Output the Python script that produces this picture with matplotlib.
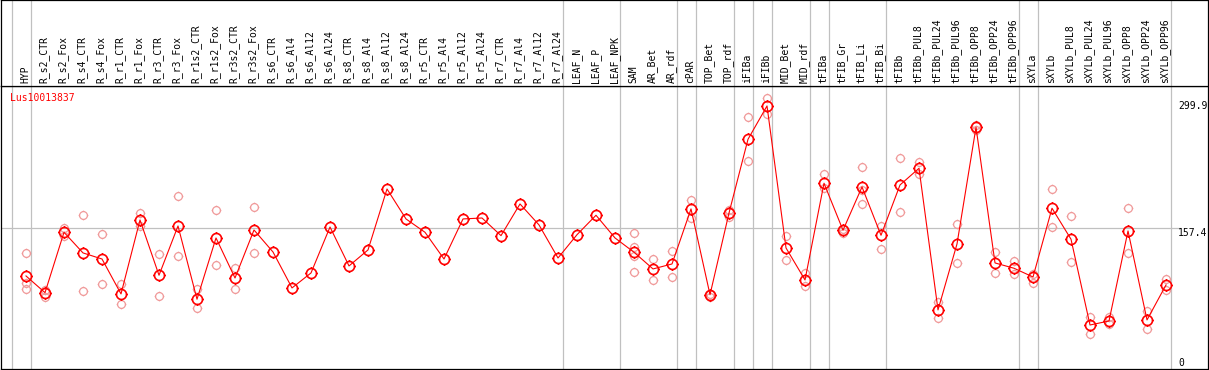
import numpy as np
import matplotlib.pyplot as plt
from matplotlib.path import Path

# sample names (x axis)
labels = ["HYP", "R_s2_CTR", "R_s2_Fox", "R_s4_CTR", "R_s4_Fox", "R_r1_CTR", "R_r1_Fox",
          "R_r3_CTR", "R_r3_Fox", "R_r1s2_CTR", "R_r1s2_Fox", "R_r3s2_CTR", "R_r3s2_Fox",
          "R_s6_CTR", "R_s6_Al4", "R_s6_Al12", "R_s6_Al24", "R_s8_CTR", "R_s8_Al4", "R_s8_Al12",
          "R_s8_Al24", "R_r5_CTR", "R_r5_Al4", "R_r5_Al12", "R_r5_Al24", "R_r7_CTR", "R_r7_Al4",
          "R_r7_Al12", "R_r7_Al24", "LEAF_N", "LEAF_P", "LEAF_NPK", "SAM", "AR_Bet", "AR_rdf",
          "cPAR", "TOP_Bet", "TOP_rdf", "iFIBa", "iFIBb", "MID_Bet", "MID_rdf", "tFIBa",
          "tFIB_Gr", "tFIB_Li", "tFIB_Bi", "tFIBb", "tFIBb_PUL8", "tFIBb_PUL24", "tFIBb_PUL96",
          "tFIBb_OPP8", "tFIBb_OPP24", "tFIBb_OPP96", "sXYLa", "sXYLb", "sXYLb_PUL8",
          "sXYLb_PUL24", "sXYLb_PUL96", "sXYLb_OPP8", "sXYLb_OPP24", "sXYLb_OPP96"]

# mean expression
means = [101.3, 81.8, 152.3, 128.2, 121.1, 80.3, 166.7, 102.1, 159.7, 74.1, 145.7, 98.9, 155.0,
         129.3, 87.3, 104.8, 158.5, 113.0, 131.7, 202.9, 167.9, 152.3, 121.1, 167.9, 169.0,
         148.4, 185.4, 160.9, 122.3, 149.5, 172.2, 145.7, 129.0, 109.5, 115.3, 179.6, 79.4,
         174.9, 261.0, 299.9, 134.0, 96.6, 209.6, 154.7, 205.3, 148.8, 207.6, 227.1, 61.6,
         138.7, 275.0, 116.5, 110.3, 100.1, 180.4, 144.2, 44.0, 48.7, 153.9, 49.9, 90.8]

# single replicates
reps = [[128.2, 93.5, 85.7], [84.9, 77.1], [157.0, 148.4], [172.2, 83.8], [150.4, 91.9],
        [91.9, 68.2], [174.9, 159.7], [127.0, 77.6], [194.4, 124.6], [85.7, 63.6],
        [178.4, 114.1], [110.3, 85.7], [181.9, 128.2],
        [], [], [], [], [], [], [], [], [], [], [], [], [], [], [], [], [], [], [],
        [151.2, 135.5, 125.0, 106.0], [121.1, 96.3], [130.1, 99.8], [190.1, 168.7],
        [77.1, 80.0], [178.4, 170.6], [286.7, 235.6], [308.9, 290.5], [148.0, 119.6],
        [104.8, 89.6], [220.1, 203.7], [151.9, 156.0], [228.3, 201.8, 185.1], [160.0, 132.5],
        [238.8, 175.7], [234.1, 220.4], [70.9, 51.9], [161.7, 116.5], [277.7, 271.8],
        [129.0, 104.8], [118.8, 103.3], [103.6, 93.5], [202.9, 158.2], [171.4, 117.3],
        [53.4, 33.5], [53.7, 45.2], [180.4, 127.8], [60.0, 39.4], [97.8, 84.6]]

group_sizes = [1, 28, 3, 3, 1, 2, 1, 1, 2, 1, 3, 7, 1, 7]
gene = "Lus10013837"
y_top, y_mid = 299.9, 157.4

# circle with little ticks, like the original markers
t = np.linspace(0, 2 * np.pi, 33)
verts = [(np.cos(a), np.sin(a)) for a in t]
codes = [Path.MOVETO] + [Path.LINETO] * 32
for dx, dy in [(1, 0), (-1, 0), (0, 1), (0, -1)]:
    verts += [(dx, dy), (1.25 * dx, 1.25 * dy)]
    codes += [Path.MOVETO, Path.LINETO]
tick_circle = Path(verts, codes)

W, H = 1209, 370
fig = plt.figure(figsize=(W / 100, H / 100), dpi=100)
ax = fig.add_axes([1 / W, 1 - 369 / H, 1207 / W, 283 / H])
hd = fig.add_axes([1 / W, 1 - 86 / H, 1207 / W, 86 / H], sharex=ax)

x = np.arange(len(labels))
seps = [-0.76] + list(np.cumsum(group_sizes) - 1 + 0.24)
for a in (ax, hd):
    for s in seps:
        a.axvline(s, color="#c0c0c0", lw=0.9, zorder=0)
    for sp in a.spines.values():
        sp.set_linewidth(0.9)
    a.set_xticks([])
    a.set_yticks([])

ax.set_xlim(-1.316, 62.21)
ax.set_ylim(-7.4, 323.2)
hd.set_ylim(0, 1)

ax.hlines(y_mid, -1.316, 60.8, color="#c0c0c0", lw=0.9, zorder=0)

for i, r in enumerate(reps):
    if r:
        ax.plot([i] * len(r), r, ls="none", marker=tick_circle, ms=7, mfc="none",
                mec="#f09a9a", mew=0.9, zorder=2)
ax.plot(x, means, color="red", lw=0.8, marker=tick_circle, ms=9, mfc="none",
        mec="red", mew=1.2, zorder=3)

fnt = dict(family="DejaVu Sans Mono", fontsize=7)
for i, lab in enumerate(labels):
    hd.text(i - 0.05, 0.035, lab, rotation=90, ha="center", va="bottom", **fnt)

ax.text(-0.84, 309.6, gene, color="red", ha="left", va="center", **fnt)
ax.text(60.63, y_top, "299.9", ha="left", va="center", clip_on=True, **fnt)
ax.text(60.63, y_mid, "157.4", ha="left", va="top", clip_on=True, **fnt)
ax.text(60.63, 0, "0", ha="left", va="center", **fnt)

fig.savefig("out.png", dpi=100)
